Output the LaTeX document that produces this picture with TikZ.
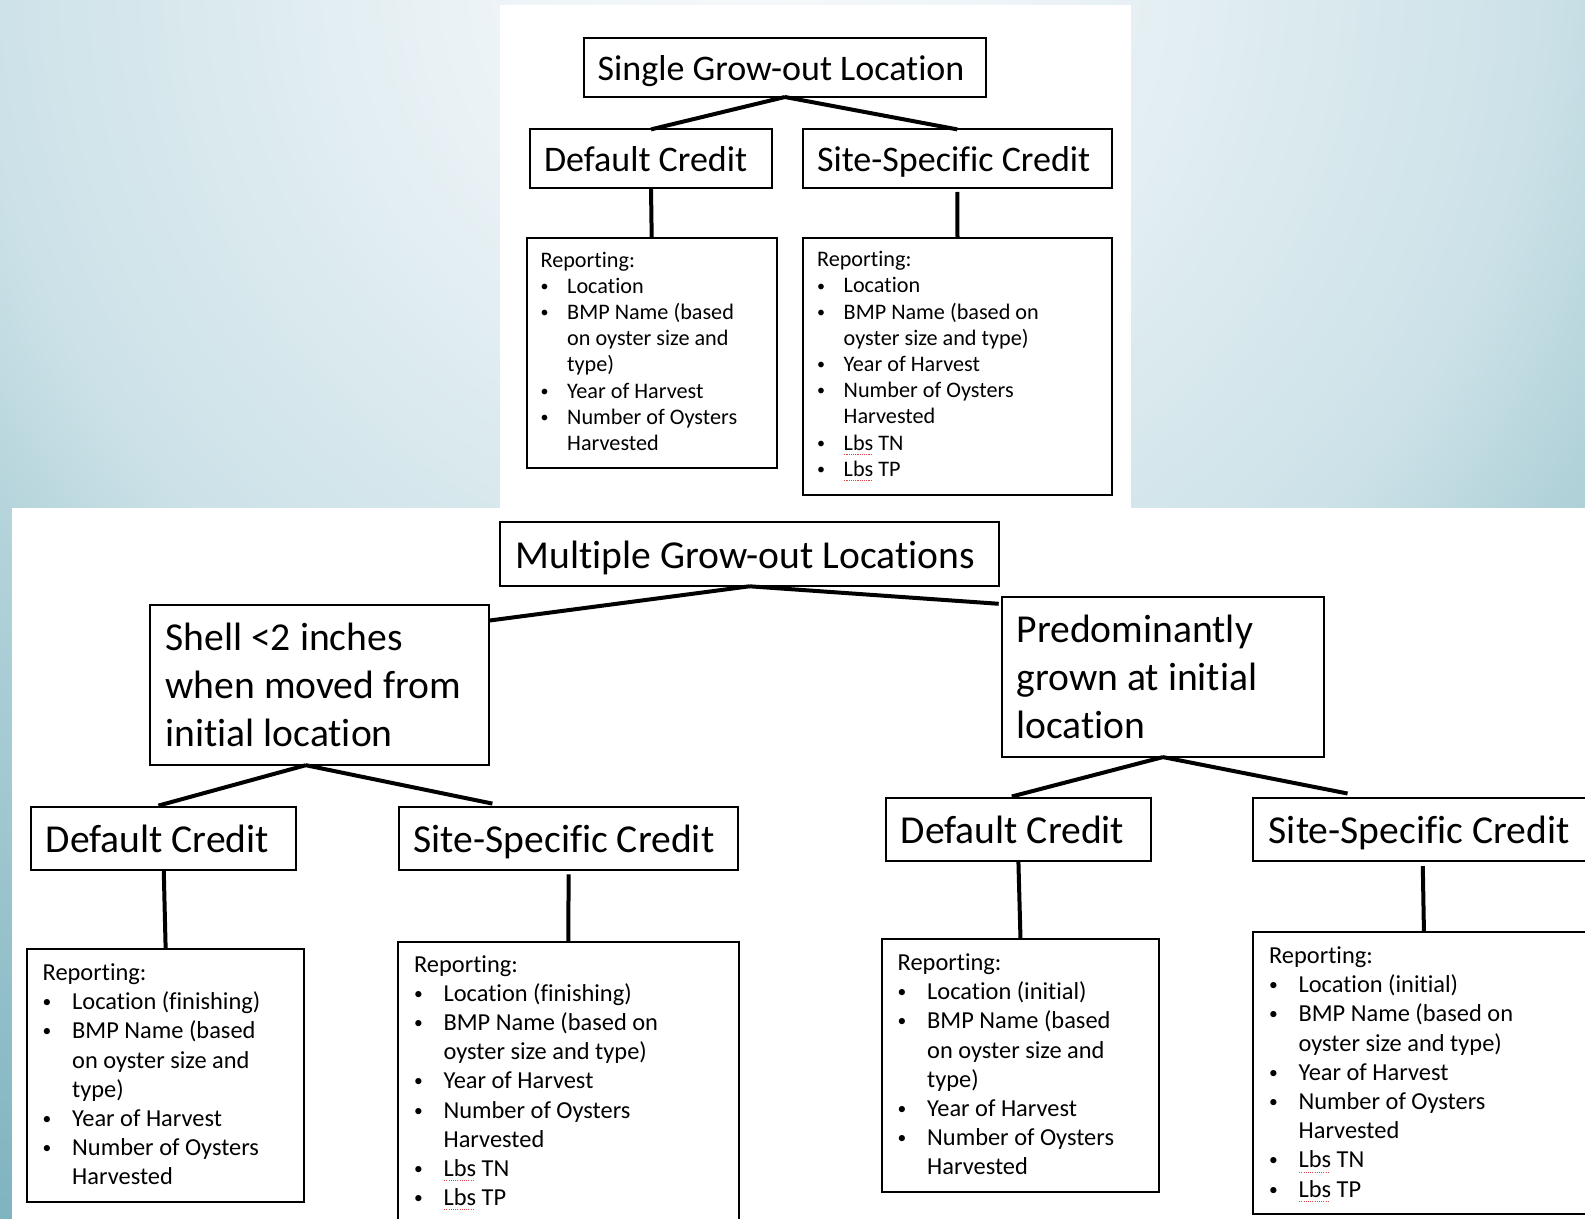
\documentclass[tikz,border=0pt]{standalone}
\usepackage{fontspec}
\usepackage{graphicx}
\setmainfont{Carlito}[Ligatures=NoCommon]
\usetikzlibrary{calc}
\definecolor{spellred}{RGB}{225,70,70}
\definecolor{bgouter}{rgb}{0.5,0.706,0.753}
\pgfdeclareradialshading{bgrad}{\pgfpoint{0bp}{0bp}}{%
 rgb(0bp)=(0.965,0.976,0.98);
 rgb(4.3bp)=(0.933,0.957,0.969);
 rgb(13.4bp)=(0.8,0.886,0.91);
 rgb(16.4bp)=(0.698,0.824,0.851);
 rgb(25bp)=(0.5,0.706,0.753);
 rgb(50bp)=(0.5,0.706,0.753)}
\newlength\indw
\def\strutH{10pt}
\newcommand\rs{\rule{0pt}{\strutH}}
\newcommand\bul{\raisebox{0.08em}{\scalebox{0.72}{•}}}
\newcommand\itm[1]{\rs\makebox[\indw][l]{\bul}#1}
\newcommand\cnt[1]{\rs\hspace*{\indw}#1}
\newcommand\rep{\rs Reporting:}
\newcommand\spell[1]{\setbox0\hbox{#1}\rlap{#1}\raisebox{-2.3pt}{\color{spellred}\leaders\hbox to 1.1pt{\hss\rule{0.55pt}{0.45pt}\hss}\hskip\wd0}}
\begin{document}
\begin{tikzpicture}[x=0.5pt,y=-0.5pt,
  bx/.style 2 args={draw=black, line width=1pt, fill=white, inner sep=0pt, outer sep=0pt, anchor=north west, minimum width=#1, minimum height=#2},
  ttop/.style={anchor=base west, inner sep=0pt, font=\fontsize{18}{21.6}\selectfont},
  tbot/.style={anchor=base west, inner sep=0pt, font=\fontsize{19.8}{24}\selectfont},
  tmulti/.style={anchor=north west, inner sep=0pt, align=left, font=\fontsize{19.8}{24}\selectfont\def\strutH{16pt}},
  rtop/.style={anchor=north west, inner sep=0pt, align=left, font=\fontsize{11.1}{13.1}\selectfont\def\strutH{10pt}\setlength\indw{13.3pt}},
  rbot/.style={anchor=north west, inner sep=0pt, align=left, font=\fontsize{12.2}{14.6}\selectfont\def\strutH{11pt}\setlength\indw{14.75pt}},
  link/.style={line width=2pt, draw=black}]
\useasboundingbox (0,0) rectangle (1585,1219);
\clip (0,0) rectangle (1585,1219);
% background
\fill[bgouter] (0,0) rectangle (1585,1219);
\shade[shading=bgrad] (760,-30) circle[radius=725pt];
\fill[white] (500,5) rectangle (1131,508);
\fill[white] (12,508) rectangle (1600,1230);
% ---- top tree
\node[bx={200.6pt}{29.3pt}] (S0) at (584.3,38.4) {};
\node[bx={121.3pt}{29.3pt}] (TD) at (529.7,129.4) {};
\node[bx={154.65pt}{29.3pt}] (TS) at (802.6,129.4) {};
\node[bx={125pt}{115pt}] (TDR) at (526.7,237.7) {};
\node[bx={154.8pt}{128.35pt}] (TSR) at (802.7,238.3) {};
% ---- bottom tree
\node[bx={249.2pt}{32.35pt}] (M0) at (500.3,521.6) {};
\node[bx={169.8pt}{80.35pt}] (SH) at (149.6,604.5) {};
\node[bx={161.2pt}{79.85pt}] (PR) at (1001.7,597.4) {};
\node[bx={132.45pt}{31.85pt}] (BD1) at (31.3,806.6) {};
\node[bx={169.3pt}{31.85pt}] (BS1) at (399.3,806.6) {};
\node[bx={132.9pt}{31.85pt}] (BD2) at (885.5,797.5) {};
\node[bx={169.3pt}{31.85pt}] (BS2) at (1253.4,797.5) {};
\node[bx={138.35pt}{126.5pt}] (BR1) at (27.3,949) {};
\node[bx={170.65pt}{150pt}] (BR2) at (397.7,942) {};
\node[bx={138.5pt}{126.35pt}] (BR3) at (882,939.3) {};
\node[bx={170.65pt}{141pt}] (BR4) at (1253.3,932) {};
% ---- titles
\node[ttop] (tS0) at ($(S0.west)+(13,13)$) {Single Grow-out Location};
\node[ttop] (tTD) at ($(TD.west)+(14,13)$) {Default Credit};
\node[ttop] (tTS) at ($(TS.west)+(14,13)$) {Site-Specific Credit};
\node[tbot] (tM0) at ($(M0.west)+(15,14.5)$) {Multiple Grow-out Locations};
\node[tmulti] (tSH) at ($(SH.north west)+(15.5,13.5)$) {\rs Shell <2 inches\\\rs when moved from\\\rs initial location};
\node[tmulti] (tPR) at ($(PR.north west)+(14.5,12.6)$) {\rs Predominantly\\\rs grown at initial\\\rs location};
\node[tbot] (tBD1) at ($(BD1.west)+(14,14.5)$) {Default Credit};
\node[tbot] (tBS1) at ($(BS1.west)+(14,14.5)$) {Site-Specific Credit};
\node[tbot] (tBD2) at ($(BD2.west)+(15,14.5)$) {Default Credit};
\node[tbot] (tBS2) at ($(BS2.west)+(15,14.5)$) {Site-Specific Credit};
% ---- reporting texts
\node[rtop] (tTDR) at ($(TDR.north west)+(13.5,9)$) {\rep\\\itm{Location}\\\itm{BMP Name (based}\\\cnt{on oyster size and}\\\cnt{type)}\\\itm{Year of Harvest}\\\itm{Number of Oysters}\\\cnt{Harvested}};
\node[rtop] (tTSR) at ($(TSR.north west)+(14,8)$) {\rep\\\itm{Location}\\\itm{BMP Name (based on}\\\cnt{oyster size and type)}\\\itm{Year of Harvest}\\\itm{Number of Oysters}\\\cnt{Harvested}\\\itm{\spell{Lbs} TN}\\\itm{\spell{Lbs} TP}};
\node[rbot] (tBR1) at ($(BR1.north west)+(15,9)$) {\rep\\\itm{Location (finishing)}\\\itm{BMP Name (based}\\\cnt{on oyster size and}\\\cnt{type)}\\\itm{Year of Harvest}\\\itm{Number of Oysters}\\\cnt{Harvested}};
\node[rbot] (tBR2) at ($(BR2.north west)+(16,7.7)$) {\rep\\\itm{Location (finishing)}\\\itm{BMP Name (based on}\\\cnt{oyster size and type)}\\\itm{Year of Harvest}\\\itm{Number of Oysters}\\\cnt{Harvested}\\\itm{\spell{Lbs} TN}\\\itm{\spell{Lbs} TP}};
\node[rbot] (tBR3) at ($(BR3.north west)+(15.3,8.7)$) {\rep\\\itm{Location (initial)}\\\itm{BMP Name (based}\\\cnt{on oyster size and}\\\cnt{type)}\\\itm{Year of Harvest}\\\itm{Number of Oysters}\\\cnt{Harvested}};
\node[rbot] (tBR4) at ($(BR4.north west)+(15.4,9)$) {\rep\\\itm{Location (initial)}\\\itm{BMP Name (based on}\\\cnt{oyster size and type)}\\\itm{Year of Harvest}\\\itm{Number of Oysters}\\\cnt{Harvested}\\\itm{\spell{Lbs} TN}\\\itm{\spell{Lbs} TP}};
% ---- connectors
\draw[link] (S0.south) -- (TD.north);
\draw[link] (S0.south) -- (TS.north);
\draw[link] (TD.south) -- (TDR.north);
\draw[link,shorten <=2pt] (TS.south) -- (TSR.north);
\draw[link] (M0.south) -- ($(SH.north east)!0.1!(SH.south east)$);
\draw[link] (M0.south) -- ($(PR.north west)!0.04!(PR.south west)+(-3,0)$);
\coordinate (shA) at ($(SH.south west)!0.46!(SH.south east)$);
\draw[link] (shA) -- ($(BD1.north west)!0.48!(BD1.north east)+(0,-1)$);
\draw[link] (shA) -- ($(BS1.north west)!0.275!(BS1.north east)+(0,-3)$);
\draw[link] (PR.south) -- ($(BD2.north west)!0.475!(BD2.north east)+(0,-1)$);
\draw[link] (PR.south) -- ($(BS2.north west)!0.278!(BS2.north east)+(0,-4)$);
\draw[link] (BD1.south) -- (BR1.north);
\draw[link,shorten <=2pt] (BS1.south) -- (BR2.north);
\draw[link] (BD2.south) -- (BR3.north);
\draw[link,shorten <=2.5pt] (BS2.south) -- (BR4.north);
\end{tikzpicture}
\end{document}
